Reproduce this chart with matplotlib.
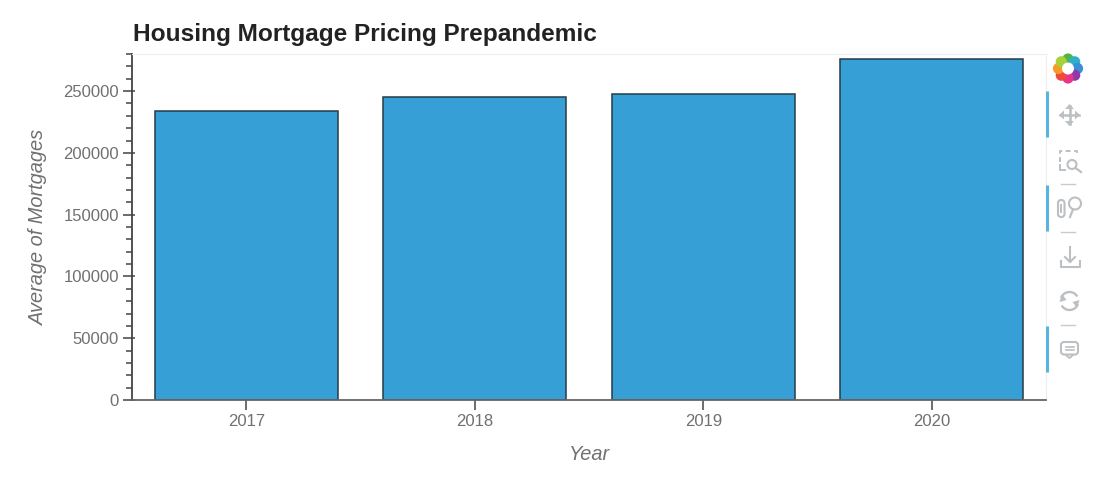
import matplotlib
matplotlib.use('Agg')
import matplotlib.pyplot as plt
from matplotlib.patches import Circle, FancyBboxPatch, Polygon, Arc
from matplotlib.ticker import MultipleLocator

plt.rcParams['font.family'] = ['Liberation Sans', 'DejaVu Sans']

years = ['2017', '2018', '2019', '2020']
mortgages = [234200, 245500, 247600, 275900]
yticks = [0, 50000, 100000, 150000, 200000, 250000]

W, H = 1120, 482
fig = plt.figure(figsize=(W / 100, H / 100), dpi=100)
ax = fig.add_axes([132 / W, (H - 400) / H, 914 / W, 346 / H])

ax.bar(range(len(years)), mortgages, width=0.8, color='#36a0d6', edgecolor='#263c49', linewidth=1.1)
ax.set_xlim(-0.5, 3.5)
ax.set_ylim(0, 280000)
ax.set_xticks(range(len(years)))
ax.set_xticklabels(years)
ax.set_yticks(yticks)
ax.yaxis.set_minor_locator(MultipleLocator(10000))

ax.tick_params(axis='both', which='major', direction='out', width=1.1,
               color='#444444', labelcolor='#707070', labelsize=12)
ax.tick_params(axis='x', which='major', length=7, pad=3)
ax.tick_params(axis='y', which='major', length=6.5, pad=3)
ax.tick_params(axis='y', which='minor', direction='out', length=4.3, width=1.1, color='#444444')

# short inner part of the major ticks
sec_x = ax.secondary_xaxis('bottom')
sec_x.set_xticks(range(len(years)))
sec_x.tick_params(direction='in', length=2.2, width=1.1, color='#444444', labelbottom=False)
sec_y = ax.secondary_yaxis('left')
sec_y.set_yticks(yticks)
sec_y.tick_params(direction='in', length=2.2, width=1.1, color='#444444', labelleft=False)
for sec in [sec_x, sec_y]:
    for spine in sec.spines.values():
        spine.set_visible(False)

for side in ['top', 'right']:
    ax.spines[side].set_color('#eeeeee')
ax.spines['left'].set_color('#444444')
ax.spines['left'].set_linewidth(1.3)
ax.spines['bottom'].set_color('#666666')
ax.spines['bottom'].set_linewidth(1.3)

ax.set_xlabel('Year', style='italic', fontsize=14.4, color='#707070', va='center')
ax.xaxis.set_label_coords(0.5, -55 / 346)
ax.set_ylabel('Average of Mortgages', style='italic', fontsize=14.4, color='#707070', va='center')
ax.yaxis.set_label_coords(-94 / 914, 0.5)
fig.text(133 / W, 1 - 34 / H, 'Housing Mortgage Pricing Prepandemic', fontsize=17.6,
         fontweight='bold', color='#222222', va='center', ha='left')

# toolbar on the right, drawn in pixel coordinates
tb = fig.add_axes([0, 0, 1, 1], facecolor='none')
tb.set_xlim(0, W)
tb.set_ylim(H, 0)
tb.axis('off')

grey = '#bcc0c3'

# logo, clockwise from the top
logo_colors = ['#4fb54a', '#2fb0c8', '#3a8fd8', '#8e3aa8', '#e8348c', '#f0483c', '#f79a2a', '#a8d038']
logo_xy = [(1068, 59), (1074.7, 61.8), (1077.5, 68.5), (1074.7, 75.2), (1068, 78), (1061.3, 75.2), (1058.5, 68.5), (1061.3, 61.8)]
for (cx, cy), c in zip(logo_xy, logo_colors):
    tb.add_patch(Circle((cx, cy), 5.6, color=c, lw=0))
tb.add_patch(Circle((1068, 68.5), 6, color='white', lw=0))

# active markers and separators
for y0, y1 in [(91, 137), (185, 231), (326, 372)]:
    tb.plot([1047, 1047], [y0, y1], color='#55b4e0', lw=2.2, solid_capstyle='butt')
for y in [184, 232, 325]:
    tb.plot([1061, 1075], [y, y], color='#c8cacc', lw=1)

# pan
tb.plot([1060, 1079], [115, 115], color=grey, lw=1.8)
tb.plot([1069.5, 1069.5], [106, 124], color=grey, lw=1.8)
for pts in [[(1059, 115), (1064, 110.5), (1064, 119.5)], [(1080, 115), (1075, 110.5), (1075, 119.5)],
            [(1069.5, 104), (1065, 109), (1074, 109)], [(1069.5, 126), (1065, 121), (1074, 121)]]:
    tb.add_patch(Polygon(pts, closed=True, color=grey, lw=0))

# box zoom
tb.plot([1060, 1060, 1077, 1077], [162, 151, 151, 155], color=grey, lw=1.4, ls=(0, (2.5, 1.8)))
tb.plot([1060, 1060, 1065], [165, 170, 170], color=grey, lw=1.4)
tb.add_patch(Circle((1072, 164.5), 4.5, fill=False, ec=grey, lw=1.5))
tb.plot([1075.5, 1081], [168, 172], color=grey, lw=1.6)

# wheel zoom
tb.add_patch(FancyBboxPatch((1059, 201), 4.5, 15, boxstyle='round,pad=1,rounding_size=3', fill=False, ec=grey, lw=1.5))
tb.plot([1061.2, 1061.2], [205, 212], color=grey, lw=1.4)
tb.add_patch(Circle((1075, 203.5), 6, fill=False, ec=grey, lw=1.5))
tb.plot([1073, 1070], [209.5, 217], color=grey, lw=1.6)

# save
tb.plot([1070, 1070], [247, 262], color=grey, lw=1.5)
tb.plot([1065, 1070, 1075], [257, 262, 257], color=grey, lw=1.5)
tb.plot([1060.5, 1060.5, 1079.5, 1079.5], [261, 266.5, 266.5, 261], color=grey, lw=1.5)

# reset
tb.add_patch(Arc((1069.5, 301), 18, 18, theta1=200, theta2=330, ec=grey, lw=1.7))
tb.add_patch(Arc((1069.5, 301), 18, 18, theta1=20, theta2=150, ec=grey, lw=1.7))
tb.add_patch(Polygon([(1077, 308), (1079.5, 300), (1072.5, 302)], closed=True, color=grey, lw=0))
tb.add_patch(Polygon([(1062, 294), (1059.5, 302), (1066.5, 300)], closed=True, color=grey, lw=0))

# hover
tb.add_patch(FancyBboxPatch((1062, 343), 15, 10.5, boxstyle='round,pad=1,rounding_size=3', fill=False, ec=grey, lw=1.5))
tb.plot([1065.5, 1073.5], [346.5, 346.5], color=grey, lw=1.2)
tb.plot([1065.5, 1073.5], [350, 350], color=grey, lw=1.2)
tb.plot([1066, 1069.5, 1073], [355, 358, 355], color=grey, lw=1.4)

fig.savefig('out.png', dpi=100, facecolor='white')
